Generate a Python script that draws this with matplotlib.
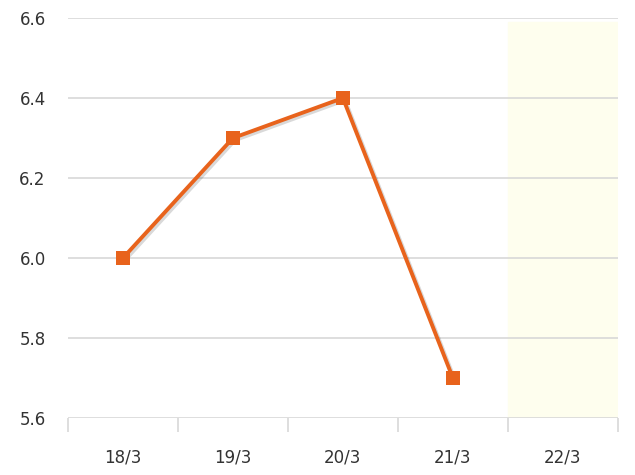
import matplotlib
matplotlib.use("Agg")
import matplotlib.pyplot as plt
from matplotlib import patheffects as pe

# values
days = ["18/3", "19/3", "20/3", "21/3", "22/3"]
values = [6.0, 6.3, 6.4, 5.7]
y_ticks = [5.6, 5.8, 6.0, 6.2, 6.4, 6.6]

ORANGE = "#e8631c"
GRID = "#d8d8d8"
TEXT = "#333333"

fig = plt.figure(figsize=(6.35, 4.75), dpi=100)
ax = fig.add_axes([0.107, 0.12, 0.866, 0.842])

x = list(range(len(values)))
# highlighted (forecast) day
ax.axvspan(3.5, 4.5, ymin=0, ymax=0.99, color="#fefeee", zorder=0)

for y in y_ticks:
    ax.axhline(y, color=GRID, lw=1.2, zorder=1)

shadow = [pe.SimpleLineShadow(offset=(1.5, -1.5), shadow_color="#000000", alpha=0.15), pe.Normal()]
ax.plot(x, values, color=ORANGE, lw=2.8, marker="s", markersize=10,
        markeredgewidth=0, zorder=3, path_effects=shadow, clip_on=False)

ax.set_xlim(-0.5, 4.5)
ax.set_ylim(5.6, 6.6)
ax.set_yticks(y_ticks)
ax.set_yticklabels([f"{v:.1f}" for v in y_ticks])
ax.set_xticks(range(len(days)))
ax.set_xticklabels(days)
ax.set_xticks([i - 0.5 for i in range(len(days) + 1)], minor=True)
ax.tick_params(axis="x", which="major", length=0, pad=22, labelsize=12, labelcolor=TEXT)
ax.tick_params(axis="x", which="minor", length=10, color=GRID, width=1.2, direction="out")
ax.tick_params(axis="y", length=0, pad=16, labelsize=12, labelcolor=TEXT)
for s in ax.spines.values():
    s.set_visible(False)

fig.savefig("out.png", dpi=100)
